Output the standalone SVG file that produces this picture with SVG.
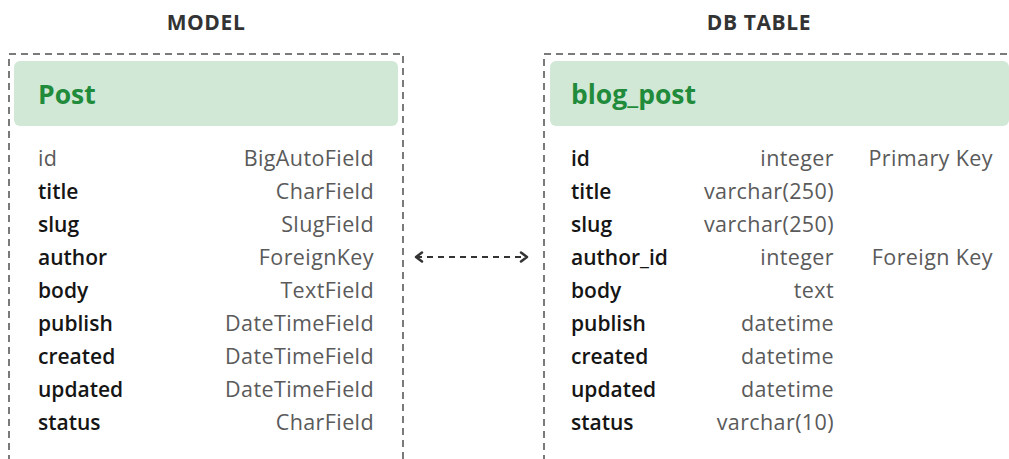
<svg xmlns="http://www.w3.org/2000/svg" width="1009" height="459" viewBox="0 0 1009 459">
<style>
.ttl{font-family:"Open Sans","Liberation Sans",sans-serif;font-weight:700;font-size:21px;letter-spacing:0.6px;fill:#333;text-anchor:middle}
.frame{fill:none;stroke:#7a7a7a;stroke-width:2;stroke-dasharray:7 5}
.hdr{fill:#d2e8d7}
.hname{font-family:"Open Sans","Liberation Sans",sans-serif;font-weight:700;font-size:26.5px;fill:#1f8b3b}
.n{font-family:"Open Sans","Liberation Sans",sans-serif;font-weight:600;font-size:21px;fill:#151515}
.g{font-family:"Open Sans","Liberation Sans",sans-serif;font-size:21.5px;letter-spacing:0.4px;fill:#5a5a5a}
.r{text-anchor:end}
.conn{fill:none;stroke:#333;stroke-width:2}
</style>
<defs>
<marker id="chev" viewBox="0 0 10 12" refX="8" refY="6" markerWidth="10" markerHeight="12" markerUnits="userSpaceOnUse" orient="auto-start-reverse">
<path d="M2,1.5 L8,6 L2,10.5" fill="none" stroke="#333" stroke-width="2.5" stroke-linecap="round" stroke-linejoin="round"/>
</marker>
</defs>
<rect width="1009" height="459" fill="#fff"/>
<text class="ttl" x="206" y="30">MODEL</text>
<text class="ttl" x="759" y="30">DB TABLE</text>
<g id="model">
<path class="frame" d="M9,462 V54 H403 V462"/>
<rect class="hdr" x="14" y="61" width="384" height="65" rx="6"/>
<text class="hname" x="38" y="104">Post</text>
<text class="g" x="38" y="166">id</text>
<text class="n" x="38" y="199">title</text>
<text class="n" x="38" y="232">slug</text>
<text class="n" x="38" y="265">author</text>
<text class="n" x="38" y="298">body</text>
<text class="n" x="38" y="331">publish</text>
<text class="n" x="38" y="364">created</text>
<text class="n" x="38" y="397">updated</text>
<text class="n" x="38" y="430">status</text>
<text class="g r" x="374" y="166">BigAutoField</text>
<text class="g r" x="374" y="199">CharField</text>
<text class="g r" x="374" y="232">SlugField</text>
<text class="g r" x="374" y="265">ForeignKey</text>
<text class="g r" x="374" y="298">TextField</text>
<text class="g r" x="374" y="331">DateTimeField</text>
<text class="g r" x="374" y="364">DateTimeField</text>
<text class="g r" x="374" y="397">DateTimeField</text>
<text class="g r" x="374" y="430">CharField</text>
</g>
<g id="dbtable">
<path class="frame" d="M544,462 V54 H1012"/>
<rect class="hdr" x="550" y="61" width="459" height="65" rx="6"/>
<text class="hname" x="571" y="104">blog_post</text>
<text class="n" x="571" y="166">id</text>
<text class="n" x="571" y="199">title</text>
<text class="n" x="571" y="232">slug</text>
<text class="n" x="571" y="265">author_id</text>
<text class="n" x="571" y="298">body</text>
<text class="n" x="571" y="331">publish</text>
<text class="n" x="571" y="364">created</text>
<text class="n" x="571" y="397">updated</text>
<text class="n" x="571" y="430">status</text>
<text class="g r" x="834" y="166">integer</text>
<text class="g r" x="834" y="199">varchar(250)</text>
<text class="g r" x="834" y="232">varchar(250)</text>
<text class="g r" x="834" y="265">integer</text>
<text class="g r" x="834" y="298">text</text>
<text class="g r" x="834" y="331">datetime</text>
<text class="g r" x="834" y="364">datetime</text>
<text class="g r" x="834" y="397">datetime</text>
<text class="g r" x="834" y="430">varchar(10)</text>
<text class="g r" x="993" y="166">Primary Key</text>
<text class="g r" x="993" y="265">Foreign Key</text>
</g>
<g id="connectors">
<path class="conn" d="M416,257 H527" stroke-dasharray="6 5" marker-start="url(#chev)" marker-end="url(#chev)"/>
</g>
</svg>
